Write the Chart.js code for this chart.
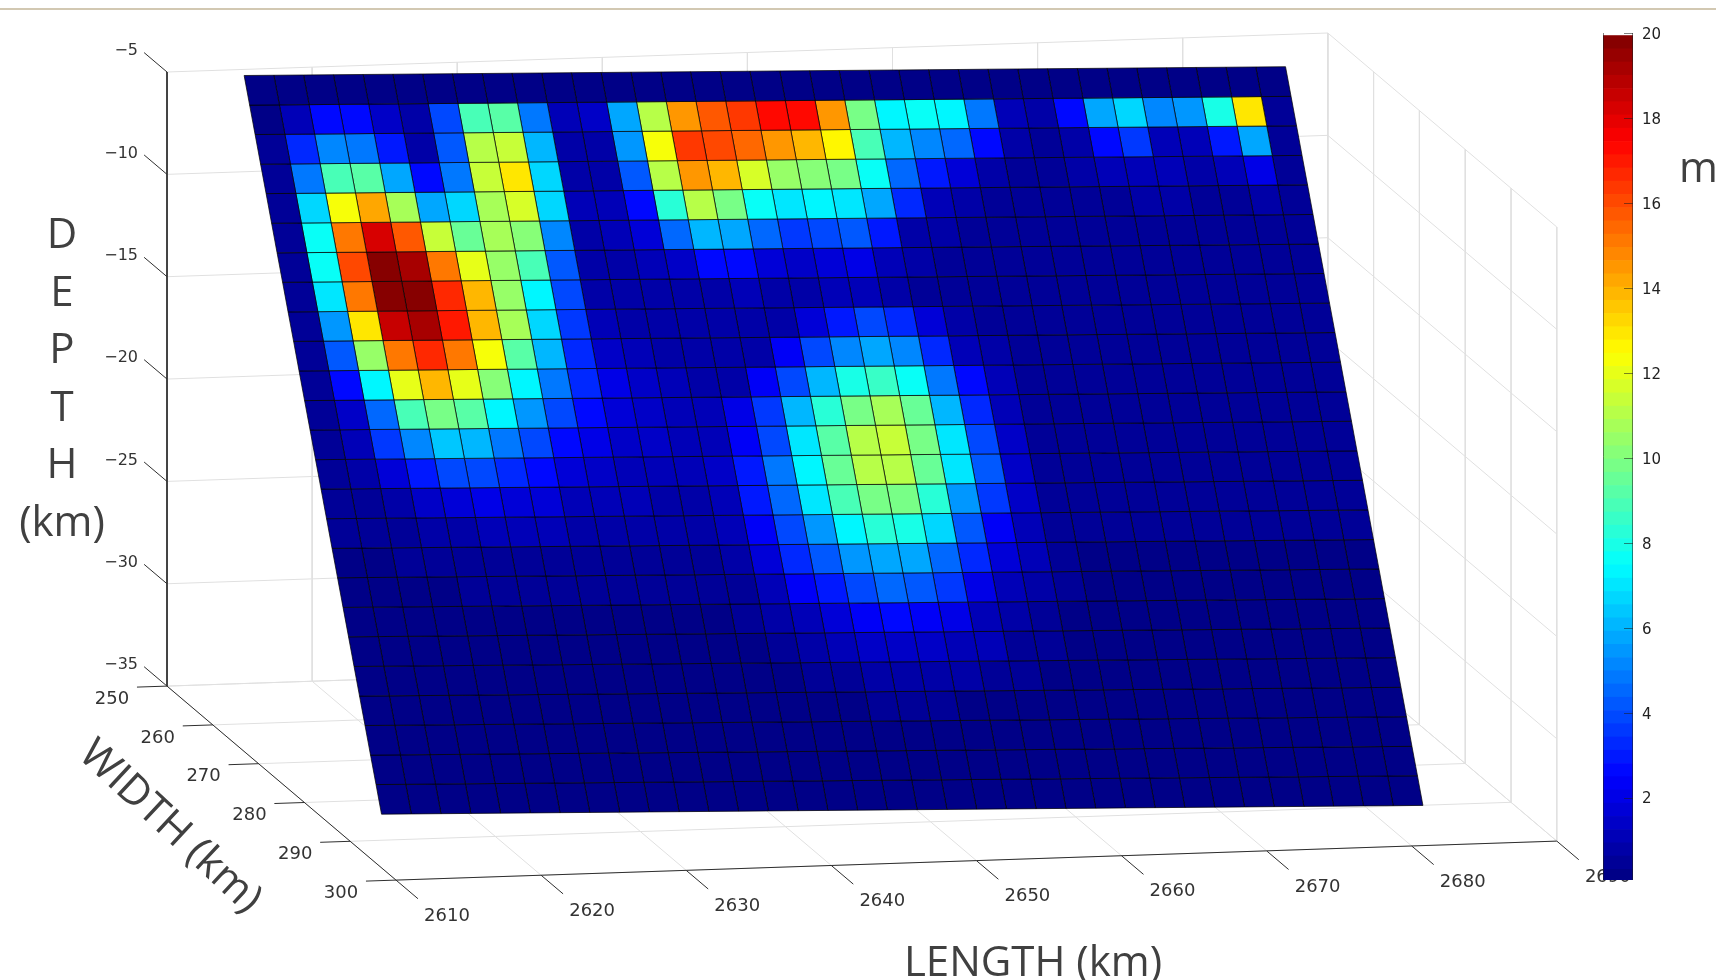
<!DOCTYPE html>
<html>
<head>
<meta charset="utf-8">
<title>Slip distribution</title>
<script src="https://cdn.jsdelivr.net/npm/chart.js@4"></script>
<style>
  html, body { margin: 0; padding: 0; background: #fff; overflow: hidden; }
  #page { position: relative; width: 1716px; height: 980px; overflow: hidden; }
  #rule { position: absolute; left: 0; top: 8px; width: 1716px; height: 2px; background: #d2c8b2; }
  #surface { position: absolute; left: 0; top: 0; }
  #colorbar { position: absolute; left: 1580px; top: 0; }
</style>
</head>
<body>
<div id="page">
  <canvas id="surface" width="1716" height="980"></canvas>
  <canvas id="colorbar" width="136" height="900"></canvas>
  <div id="rule"></div>
</div>
<script>
const lengthTicks = [2610, 2620, 2630, 2640, 2650, 2660, 2670, 2680, 2690];
const widthTicks = [250, 260, 270, 280, 290, 300];
const depthTicks = [-5, -10, -15, -20, -25, -30, -35];

// fault plane nodes (km)
const lengthNodes = [2615, 2616.99, 2618.98, 2620.98, 2622.97, 2624.96, 2626.95, 2628.94, 2630.94, 2632.93, 2634.92, 2636.91, 2638.9, 2640.9, 2642.89, 2644.88, 2646.87, 2648.86, 2650.86, 2652.85, 2654.84, 2656.83, 2658.82, 2660.82, 2662.81, 2664.8, 2666.79, 2668.78, 2670.78, 2672.77, 2674.76, 2676.75, 2678.74, 2680.74, 2682.73, 2684.72];
const strikeDrift = [0, 0.19, 0.37, 0.56, 0.74, 0.93, 1.11, 1.3, 1.49, 1.67, 1.86, 2.04, 2.23, 2.41, 2.6, 2.79, 2.97, 3.16, 3.34, 3.53, 3.71, 3.9, 4.09, 4.27, 4.46, 4.64, 4.83, 5.01, 5.2, 5.39, 5.57, 5.76, 5.94, 6.13, 6.31, 6.5];
const widthNodes = [251, 252.2, 253.4, 254.6, 255.8, 257, 258.2, 259.4, 260.6, 261.8, 263, 264.2, 265.4, 266.6, 267.8, 269, 270.2, 271.4, 272.6, 273.8, 275, 276.2, 277.4, 278.6, 279.8, 281];
const depthNodes = [-5.1, -6.32, -7.53, -8.75, -9.96, -11.18, -12.4, -13.61, -14.83, -16.04, -17.26, -18.48, -19.69, -20.91, -22.12, -23.34, -24.56, -25.77, -26.99, -28.2, -29.42, -30.64, -31.85, -33.07, -34.28, -35.5];

// slip in metres, one row per depth step, 35 cells along strike
const slipRows = [
  [.2,.2,.2,.2,.2, .2,.2,.2,.2,.2, .2,.2,.2,.2,.2, .2,.2,.2,.2,.2, .2,.2,.2,.2,.2, .2,.2,.2,.2,.2, .2,.2,.2,.2,.2],
  [.3,1.2,2.6,2.6,1.5, .8,4,8.8,9.3,4.8, 1,1.5,5.8,11,14.5, 15.8,16.3,17.3,17.4,14.6, 9.8,7.4,7.8,7.3,4.9, 1.3,.8,2.7,5.9,6.8, 5.2,5.4,8,13,.4],
  [.4,3.3,5.3,5,3, .8,4.2,11,11.5,6, .7,.8,5.4,12.5,16.3, 16,15.5,14.6,14,12.6, 8.8,6.1,5.2,4.5,2.7, .9,.6,.8,2.7,3.6, 1.3,1,2.9,5.9,.5],
  [.4,4.8,8.8,9.2,5.8, 2.6,4.8,11.3,13,6.8, .9,.8,4.2,11,14.6, 13.8,11.7,10.6,10.2,10, 7.6,4.6,3,1.8,.8, .6,.6,.7,1.2,1.3, 1,.9,1,2.2,.5],
  [.4,6.8,12.5,14.3,10.8, 5.8,6.7,10.8,11.7,6.9, 1.1,1,2.7,8.3,11, 10,7.7,7.1,7.3,7.2, 5.7,3.3,1,.8,.6, .5,.5,.5,.6,.7, .7,.6,.6,.8,.4],
  [.4,7.6,15.2,18.3,15.7, 11.3,9.6,10.8,10.2,5.3, .9,1.2,1.8,4.6,6, 5.8,4.5,3.6,3.8,4.4, 3,.9,.8,.6,.5, .4,.4,.4,.4,.4, .4,.4,.4,.5,.4],
  [.4,7.6,16.2,20,19.2, 15.2,12.2,10.6,9,4.4, .9,.7,1,1.5,2.6, 2.8,1.8,1.6,1.9,2, 1.2,.8,.6,.5,.4, .4,.4,.4,.4,.4, .4,.4,.4,.4,.4],
  [.5,7,15.3,19.8,20, 16.7,13.8,10.6,7.5,3.8, .9,.7,.8,.8,.9, 1,.9,.9,1,1.2, .9,.6,.5,.4,.4, .4,.4,.4,.4,.4, .4,.4,.4,.4,.4],
  [.5,5.6,13,18.5,19.3, 17,13.8,10.8,6.9,3.5, 1.2,.7,.7,.7,.7, .8,.9,1.7,3,3.9, 3.2,1.7,.9,.6,.4, .4,.4,.4,.4,.4, .4,.4,.4,.4,.4],
  [.5,4.4,10.4,15.3,16.8, 15.2,12.5,9.4,6,3.4, 1.5,1,.7,.7,.7, .8,2.3,3.9,5.1,5.9, 5.2,3.4,1.3,.7,.4, .4,.4,.4,.4,.4, .4,.4,.4,.4,.4],
  [.5,2.8,7.5,12,14, 12.2,10.2,7.4,4.9,3.2, 2.1,1.5,1,.8,.9, 2.4,4,6.1,8.1,8.5, 7.6,5,2.7,1.1,.5, .4,.4,.4,.4,.4, .4,.4,.4,.4,.4],
  [.5,1.6,4.6,8.8,9.8, 9.4,7.5,5.5,4,2.7, 1.9,1.6,1.2,1,2, 3.5,6,8.4,9.8,10.7, 9.6,6.2,3.4,1.3,.6, .4,.4,.4,.4,.4, .4,.4,.4,.4,.4],
  [.5,1,3.5,5.2,6.4, 6.2,5,4.1,2.8,2.1, 1.6,1.4,1.2,1.3,2.5, 4.1,7,9.3,11,11.3, 10,7,3.9,1.6,.6, .4,.4,.4,.4,.4, .4,.4,.4,.4,.4],
  [.4,.7,1.9,3,3.9, 3.9,3.3,2.7,1.9,1.5, 1.3,1.1,1,1.4,3, 4.8,7.5,9.6,11,11, 9.6,7,4.2,1.6,.6, .4,.4,.4,.4,.4, .4,.4,.4,.4,.4],
  [.4,.5,.8,1.5,1.8, 2,1.9,1.7,1.3,1.1, 1.1,.9,.8,1.2,2.9, 4.6,7,8.8,10,10, 8.3,5.6,3.7,1.5,.5, .4,.4,.4,.4,.4, .4,.4,.4,.4,.4],
  [.4,.4,.5,.8,.9, 1,1.1,1,.9,.8, .8,.7,.7,1,2.4, 4,5.6,7.5,8.2,7.9, 6.8,4.4,2.5,1.2,.5, .4,.4,.4,.4,.4, .4,.4,.4,.4,.4],
  [.3,.3,.4,.5,.5, .6,.6,.6,.5,.5, .5,.5,.5,.8,1.7, 3.3,4.4,5.4,5.9,5.7, 4.7,3.4,1.8,1,.4, .3,.3,.3,.3,.3, .3,.3,.3,.3,.3],
  [.3,.3,.3,.3,.4, .4,.4,.4,.4,.4, .4,.4,.4,.6,1.2, 2.3,3,4,4.5,4.2, 3.5,2.2,1.2,.8,.4, .3,.3,.3,.3,.3, .3,.3,.3,.3,.3],
  [.2,.2,.3,.3,.3, .3,.3,.3,.3,.3, .3,.3,.3,.4,.7, 1.3,1.8,2.5,2.8,2.5, 2,1.3,.9,.5,.3, .3,.3,.3,.3,.3, .3,.3,.3,.3,.3],
  [.2,.2,.2,.2,.2, .2,.2,.2,.2,.3, .3,.3,.3,.3,.4, .7,1.1,1.4,1.6,1.5, 1.2,1,.6,.4,.3, .3,.3,.3,.3,.3, .3,.3,.3,.3,.3],
  [.2,.2,.2,.2,.2, .2,.2,.2,.2,.2, .2,.2,.2,.2,.3, .4,.6,.8,.9,.8, .7,.5,.4,.3,.2, .2,.2,.2,.2,.2, .2,.2,.2,.2,.2],
  [.2,.2,.2,.2,.2, .2,.2,.2,.2,.2, .2,.2,.2,.2,.2, .3,.3,.4,.4,.4, .3,.3,.2,.2,.2, .2,.2,.2,.2,.2, .2,.2,.2,.2,.2],
  [.2,.2,.2,.2,.2, .2,.2,.2,.2,.2, .2,.2,.2,.2,.2, .2,.2,.2,.2,.2, .2,.2,.2,.2,.2, .2,.2,.2,.2,.2, .2,.2,.2,.2,.2],
  [.2,.2,.2,.2,.2, .2,.2,.2,.2,.2, .2,.2,.2,.2,.2, .2,.2,.2,.2,.2, .2,.2,.2,.2,.2, .2,.2,.2,.2,.2, .2,.2,.2,.2,.2],
  [.2,.2,.2,.2,.2, .2,.2,.2,.2,.2, .2,.2,.2,.2,.2, .2,.2,.2,.2,.2, .2,.2,.2,.2,.2, .2,.2,.2,.2,.2, .2,.2,.2,.2,.2]
];

const colorMin = 0.06;
const colorMax = 20;
const colorLevels = 64;

// MATLAB jet, 64 steps
function jetColor(i) {
  const t = (i + 0.5) / colorLevels;
  const c = (d) => Math.round(255 * Math.max(0, Math.min(1, 1.5 - Math.abs(4 * t - d))));
  return `rgb(${c(3)},${c(2)},${c(1)})`;
}

function slipColor(v) {
  const i = Math.floor((v - colorMin) / (colorMax - colorMin) * colorLevels);
  return jetColor(Math.max(0, Math.min(colorLevels - 1, i)));
}

// orthographic view of the MATLAB axes box
function project(len, wid, dep) {
  return {
    x: 167 + (len - 2610) * 14.51 + (wid - 250) * 4.58,
    y: 72 + (-5 - dep) * 20.47 - (len - 2610) * 0.4875 + (wid - 250) * 3.88,
  };
}

function lineSet(a, b, color) {
  return {
    data: [project(...a), project(...b)],
    showLine: true, borderColor: color, borderWidth: 1, pointRadius: 0, fill: false, clip: false,
  };
}

const datasets = [];

for (let r = 0; r < slipRows.length; r++) {
  for (let c = 0; c < slipRows[r].length; c++) {
    const node = (i, j) => project(lengthNodes[j], widthNodes[i] + strikeDrift[j], depthNodes[i]);
    const corners = [node(r, c), node(r, c + 1), node(r + 1, c + 1), node(r + 1, c), node(r, c)];
    datasets.push({
      data: corners,
      showLine: true, fill: 'shape', clip: false, tension: 0,
      backgroundColor: slipColor(slipRows[r][c]),
      borderColor: 'rgba(0,0,0,0.7)', borderWidth: 1, pointRadius: 0,
    });
  }
}

const axisColor = '#2e2e2e';
const gridColor = '#e0e0e0';
const lenMin = lengthTicks[0], lenMax = lengthTicks[lengthTicks.length - 1];
const widMin = widthTicks[0], widMax = widthTicks[widthTicks.length - 1];
const depTop = depthTicks[0], depBot = depthTicks[depthTicks.length - 1];

// axes and ticks
datasets.push(lineSet([lenMin, widMin, depTop], [lenMin, widMin, depBot], axisColor));
datasets.push(lineSet([lenMin, widMin, depBot], [lenMin, widMax, depBot], axisColor));
datasets.push(lineSet([lenMin, widMax, depBot], [lenMax, widMax, depBot], axisColor));
depthTicks.forEach((d) => datasets.push(lineSet([lenMin, widMin, d], [lenMin, widMin - 5, d], axisColor)));
widthTicks.forEach((w) => datasets.push(lineSet([lenMin, w, depBot], [lenMin - 2.07, w, depBot], axisColor)));
lengthTicks.forEach((l) => datasets.push(lineSet([l, widMax, depBot], [l, widMax + 4.8, depBot], axisColor)));

// box grid
lengthTicks.forEach((l) => {
  datasets.push(lineSet([l, widMin, depBot], [l, widMax, depBot], gridColor));
  datasets.push(lineSet([l, widMin, depTop], [l, widMin, depBot], gridColor));
});
widthTicks.forEach((w) => {
  datasets.push(lineSet([lenMin, w, depBot], [lenMax, w, depBot], gridColor));
  datasets.push(lineSet([lenMax, w, depTop], [lenMax, w, depBot], gridColor));
});
depthTicks.forEach((d) => {
  datasets.push(lineSet([lenMin, widMin, d], [lenMax, widMin, d], gridColor));
  datasets.push(lineSet([lenMax, widMin, d], [lenMax, widMax, d], gridColor));
});

const labelPlugin = {
  id: 'labels3d',
  afterDraw(chart) {
    const { ctx, scales: { x, y } } = chart;
    const put = (text, p, dx, dy, align) => {
      ctx.textAlign = align;
      ctx.fillText(text, x.getPixelForValue(p.x) + dx, y.getPixelForValue(p.y) + dy);
    };
    ctx.save();
    ctx.textBaseline = 'middle';
    ctx.fillStyle = '#333';
    ctx.font = '16px "DejaVu Sans"';
    depthTicks.forEach((d) => put('\u2212' + Math.abs(d), project(lenMin, widMin, d), -29, -21, 'right'));
    ctx.font = '18px "DejaVu Sans"';
    widthTicks.forEach((w) => put(String(w), project(lenMin, w, depBot), -55, 13, 'center'));
    lengthTicks.forEach((l) => put(String(l), project(l, widMax, depBot), 51, 36, 'center'));

    ctx.fillStyle = '#404040';
    ctx.font = '42px "Open Sans"';
    ctx.textAlign = 'center';
    ['D', 'E', 'P', 'T', 'H', '(km)'].forEach((t, i) => ctx.fillText(t, 62, 236 + i * 57.6));
    ctx.fillText('LENGTH (km)', 1033, 964);
    ctx.textAlign = 'left';
    ctx.fillText('m', 1679, 170);
    ctx.translate(170, 827);
    ctx.rotate(43 * Math.PI / 180);
    ctx.textAlign = 'center';
    ctx.fillText('WIDTH (km)', 0, 0);
    ctx.restore();
  },
};

new Chart(document.getElementById('surface'), {
  type: 'scatter',
  data: { datasets },
  plugins: [labelPlugin],
  options: {
    responsive: false, animation: false, events: [],
    layout: { padding: 0 },
    plugins: { legend: { display: false }, tooltip: { enabled: false } },
    scales: {
      x: { type: 'linear', min: 0, max: 1716, display: false },
      y: { type: 'linear', min: 0, max: 980, reverse: true, display: false },
    },
  },
});

const colorSteps = Array.from({ length: colorLevels }, (_, i) => i);

const barEdgePlugin = {
  id: 'barEdge',
  afterDatasetsDraw(chart) {
    const { ctx, chartArea: a, scales: { y } } = chart;
    ctx.save();
    ctx.strokeStyle = 'rgba(30,30,30,0.55)';
    ctx.lineWidth = 1;
    ctx.beginPath();
    ctx.moveTo(a.left + 0.5, a.top);
    ctx.lineTo(a.left + 0.5, a.bottom);
    ctx.moveTo(a.right - 0.5, a.top);
    ctx.lineTo(a.right - 0.5, a.bottom);
    y.ticks.forEach((t) => {
      const py = Math.round(y.getPixelForValue(t.value)) + 0.5;
      ctx.moveTo(a.right - 9, py);
      ctx.lineTo(a.right, py);
    });
    ctx.stroke();
    ctx.restore();
  },
};

new Chart(document.getElementById('colorbar'), {
  type: 'bar',
  data: {
    labels: ['m'],
    datasets: colorSteps.map((i) => ({
      data: [(colorMax - colorMin) / colorLevels],
      backgroundColor: jetColor(i),
      borderWidth: 0, stack: 'cbar', categoryPercentage: 1, barPercentage: 1,
    })),
  },
  plugins: [barEdgePlugin],
  options: {
    responsive: false, animation: false, events: [],
    layout: { padding: { left: 23, right: 0, top: 33, bottom: 20 } },
    plugins: { legend: { display: false }, tooltip: { enabled: false } },
    scales: {
      x: { display: false, stacked: true },
      y: {
        position: 'right', stacked: true, min: colorMin, max: colorMax,
        afterFit: (s) => { s.width = 83; },
        grid: { display: false },
        border: { display: false },
        ticks: {
          stepSize: 2, includeBounds: false, padding: 1, labelOffset: 2, color: '#222',
          font: { family: '"DejaVu Sans"', size: 15 },
        },
      },
    },
  },
});
</script>
</body>
</html>
